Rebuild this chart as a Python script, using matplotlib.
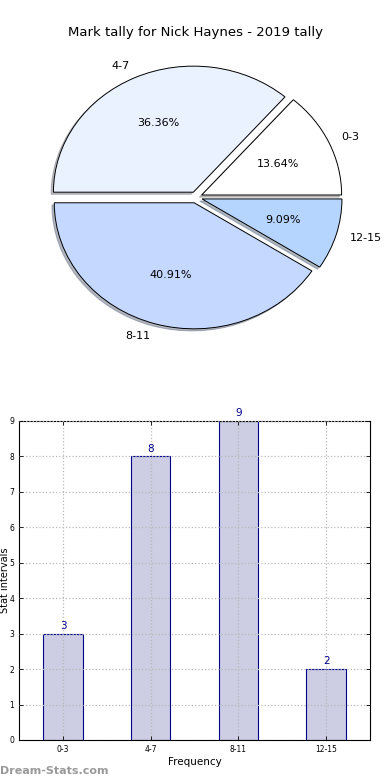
import matplotlib
matplotlib.use("Agg")
import matplotlib.pyplot as plt

# data
categories = ["0-3", "4-7", "8-11", "12-15"]
counts = [3, 8, 9, 2]
pie_colors = ["#ffffff", "#eaf1ff", "#c5d8ff", "#b5d5ff"]
title = "Mark tally for Nick Haynes - 2019 tally"

fig = plt.figure(figsize=(3.9, 7.8), dpi=100)

# pie on top
ax1 = fig.add_axes([0.054, 0.545, 0.897, 0.404])
wedges, texts, autotexts = ax1.pie(
    counts, labels=categories, colors=pie_colors, autopct="%.2f%%",
    explode=[0.045] * len(counts),
    shadow=dict(ox=-0.012, oy=-0.012, shade=0.5),
    startangle=0,
    wedgeprops=dict(edgecolor="black", linewidth=0.7),
    textprops=dict(fontsize=8),
)
ax1.set_aspect("auto")
ax1.set_xlim(-1.25, 1.25)
ax1.set_ylim(-1.25, 1.25)
ax1.set_title(title, fontsize=9.5, pad=3)

# bar chart below
ax2 = fig.add_axes([0.049, 0.0513, 0.9, 0.409])
x = range(len(categories))
ax2.bar(x, counts, width=0.45, color="#cdcde4",
        edgecolor="#00008b", linewidth=0.8, zorder=2)
for xi, c in zip(x, counts):
    ax2.text(xi, c + 0.08, str(c), ha="center", va="bottom", fontsize=7.5, color="#00008b")
ax2.set_xlim(-0.5, 3.5)
ax2.set_ylim(0, 9)
ax2.set_xticks(list(x))
ax2.set_xticklabels(categories)
ax2.set_yticks(range(10))
ax2.tick_params(direction="in", labelsize=5.5, top=True, right=True, length=3, width=0.6)
ax2.grid(True, linestyle=":", color="#b8b8b8", linewidth=0.9)
ax2.set_axisbelow(False)
ax2.set_xlabel("Frequency", fontsize=7.5, labelpad=2)
ax2.set_ylabel("Stat intervals", fontsize=7)
ax2.yaxis.set_label_coords(-0.027, 0.5)
for s in ax2.spines.values():
    s.set_linewidth(0.8)

fig.text(0.0, 0.005, "Dream-Stats.com", fontsize=8, color="#999999",
         fontweight="bold", ha="left", va="bottom")

fig.savefig("out.png", dpi=100)
